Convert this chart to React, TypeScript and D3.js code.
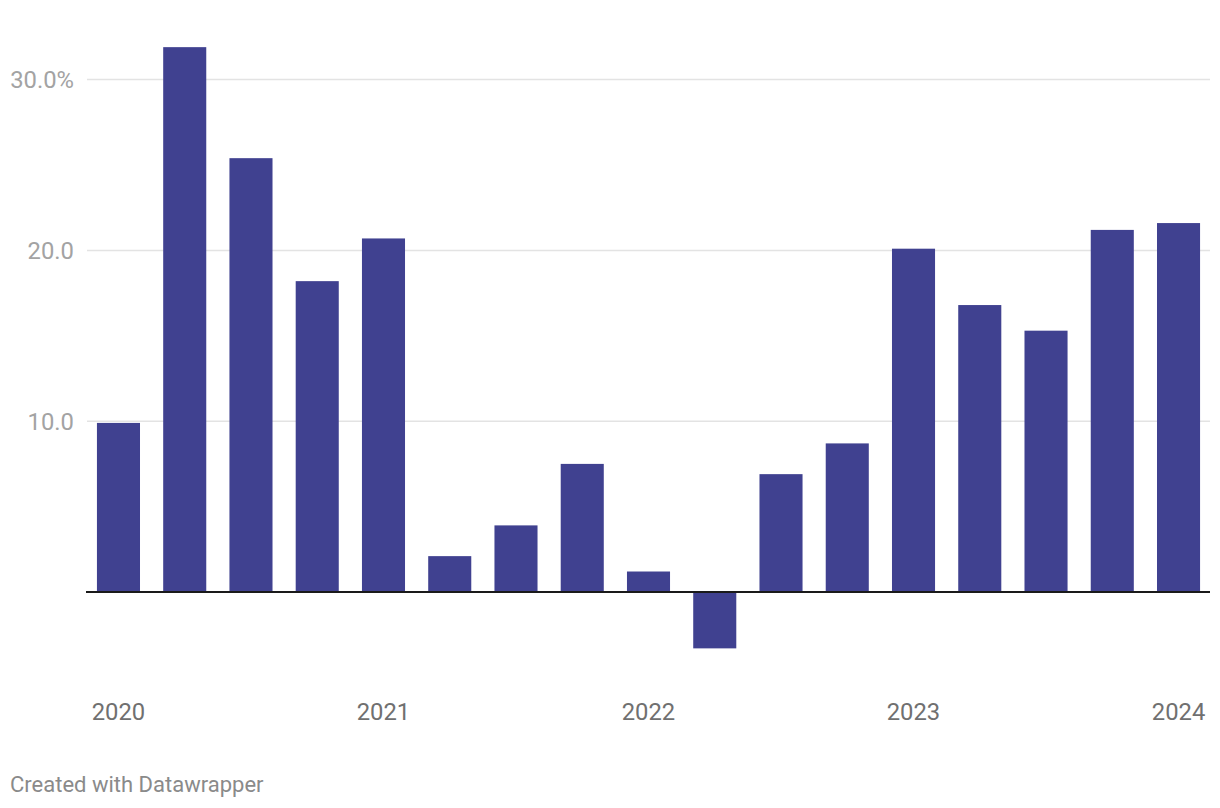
import React from "react";
import * as d3 from "d3";

const quarters = [
  "2020 Q1", "2020 Q2", "2020 Q3", "2020 Q4",
  "2021 Q1", "2021 Q2", "2021 Q3", "2021 Q4",
  "2022 Q1", "2022 Q2", "2022 Q3", "2022 Q4",
  "2023 Q1", "2023 Q2", "2023 Q3", "2023 Q4",
  "2024 Q1",
];
const values = [9.9, 31.9, 25.4, 18.2, 20.7, 2.1, 3.9, 7.5, 1.2, -3.3, 6.9, 8.7, 20.1, 16.8, 15.3, 21.2, 21.6];
const yTicks = [10, 20, 30];
const yearLabels = ["2020", "2021", "2022", "2023", "2024"];
const yearQuarters = ["2020 Q1", "2021 Q1", "2022 Q1", "2023 Q1", "2024 Q1"];

const W = 1220;
const H = 808;

export default function App() {
  const x = d3.scaleBand<string>().domain(quarters).range([87, 1210]).paddingInner(0.35).paddingOuter(0.15);
  const y = d3.scaleLinear().domain([0, 30]).range([592, 79.6]);
  const fmt = (v: number, i: number) => d3.format(".1f")(v) + (i === yTicks.length - 1 ? "%" : "");
  return (
    <svg width={W} height={H} style={{ position: "absolute", left: 0, top: 0, background: "#fff" }} fontFamily="Roboto, sans-serif">
      {yTicks.map((t, i) => (
        <g key={t}>
          <line x1={87} x2={1210} y1={y(t)} y2={y(t)} stroke="#e3e3e3" strokeWidth={1.5} />
          <text x={74} y={y(t)} dy="0.36em" textAnchor="end" fontSize={23.8} fill="#a3a3a3">{fmt(t, i)}</text>
        </g>
      ))}
      {values.map((v, i) => (
        <rect
          key={quarters[i]}
          x={x(quarters[i])}
          width={x.bandwidth()}
          y={Math.min(y(v), y(0))}
          height={Math.abs(y(v) - y(0))}
          fill="#404190"
        />
      ))}
      <line x1={86} x2={1210} y1={y(0)} y2={y(0)} stroke="#1a1a1a" strokeWidth={2} />
      {yearLabels.map((lab, i) => (
        <text key={lab} x={(x(yearQuarters[i]) as number) + x.bandwidth() / 2} y={720} textAnchor="middle" fontSize={23.8} fill="#707070">{lab}</text>
      ))}
      <text x={10} y={792} fontSize={22} fill="#8a8a8a">Created with Datawrapper</text>
    </svg>
  );
}
